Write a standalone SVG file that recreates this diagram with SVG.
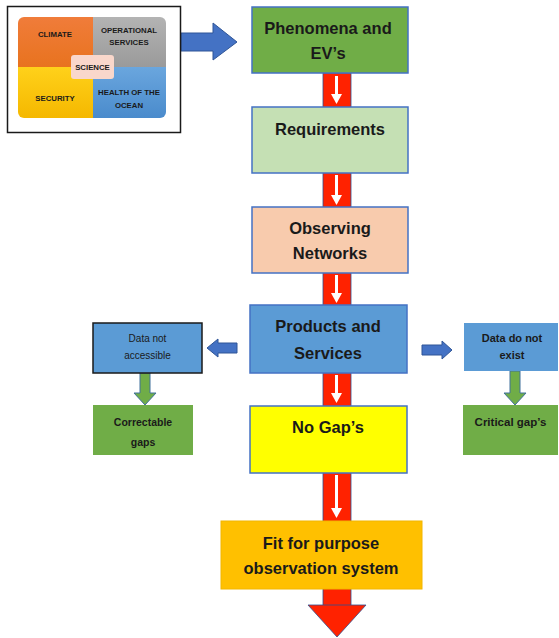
<svg xmlns="http://www.w3.org/2000/svg" width="559" height="638" viewBox="0 0 559 638">
<defs>
<style>
.t{font-family:"Liberation Sans",Arial,sans-serif;font-weight:bold;fill:#1a1a1a;text-anchor:middle}
.big{font-size:16.5px}
.sm{font-size:10px;font-weight:normal}
.xs{font-size:7.8px}
.box{stroke:#4472c4;stroke-width:1.5}
</style>
<linearGradient id="gO" x1="0" y1="0" x2="0" y2="1"><stop offset="0" stop-color="#f07c3a"/><stop offset="1" stop-color="#e8731f"/></linearGradient>
<linearGradient id="gG" x1="0" y1="0" x2="0" y2="1"><stop offset="0" stop-color="#b3b3b3"/><stop offset="1" stop-color="#9a9a9a"/></linearGradient>
<linearGradient id="gY" x1="0" y1="0" x2="0" y2="1"><stop offset="0" stop-color="#ffd11a"/><stop offset="1" stop-color="#f5b800"/></linearGradient>
<linearGradient id="gB" x1="0" y1="0" x2="0" y2="1"><stop offset="0" stop-color="#6aa6de"/><stop offset="1" stop-color="#4a8bcc"/></linearGradient>
<clipPath id="quad"><rect x="18" y="17" width="148" height="101" rx="6"/></clipPath>
</defs>
<rect width="559" height="638" fill="#ffffff"/>

<g id="connectors">
  <rect x="323" y="73" width="28" height="533" fill="#ff2200" stroke="#2f4f8f" stroke-width="0.8"/>
  <polygon points="308,605 366,605 337,637" fill="#ff2200" stroke="#2f4f8f" stroke-width="0.8"/>
  <g fill="#ffffff">
    <rect x="335" y="76" width="3" height="20"/><polygon points="331,94 342,94 336.5,104"/>
    <rect x="335" y="175" width="3" height="22"/><polygon points="331,195 342,195 336.5,205"/>
    <rect x="335" y="275" width="3" height="21"/><polygon points="331,293 342,293 336.5,303"/>
    <rect x="335" y="375" width="3" height="20"/><polygon points="331,393 342,393 336.5,403"/>
    <rect x="335" y="475" width="3" height="35"/><polygon points="331,508 342,508 336.5,518"/>
  </g>
  <polygon points="181,33 213,33 213,23 237,42 213,60 213,51 181,51" fill="#4472c4" stroke="#2f5597" stroke-width="1"/>
  <polygon points="237,343 218,343 218,339 207,348 218,357 218,353 237,353" fill="#4472c4" stroke="#2f5597" stroke-width="1"/>
  <polygon points="422,345 442,345 442,341 452,350 442,359 442,355 422,355" fill="#4472c4" stroke="#2f5597" stroke-width="1"/>
  <polygon points="140,373 150,373 150,393 156,393 145,405 134,393 140,393" fill="#70ad47" stroke="#41719c" stroke-width="1"/>
  <polygon points="510,371 520,371 520,393 526,393 515,405 504,393 510,393" fill="#70ad47" stroke="#41719c" stroke-width="1"/>
</g>

<g id="frame">
  <rect x="7.5" y="6.5" width="173" height="126" fill="#ffffff" stroke="#1a1a1a" stroke-width="1.5"/>
  <g clip-path="url(#quad)">
    <rect x="18" y="17" width="75" height="50" fill="url(#gO)"/>
    <rect x="93" y="17" width="73" height="50" fill="url(#gG)"/>
    <rect x="18" y="67" width="75" height="51" fill="url(#gY)"/>
    <rect x="93" y="67" width="73" height="51" fill="url(#gB)"/>
  </g>
  <rect x="71" y="55" width="43" height="24" rx="3" fill="#f9d7cb"/>
  <text class="t xs" x="55" y="37">CLIMATE</text>
  <text class="t xs" x="129" y="33">OPERATIONAL</text>
  <text class="t xs" x="129" y="45">SERVICES</text>
  <text class="t xs" x="92.5" y="70">SCIENCE</text>
  <text class="t xs" x="55" y="101">SECURITY</text>
  <text class="t xs" x="129" y="95">HEALTH OF THE</text>
  <text class="t xs" x="129" y="108">OCEAN</text>
</g>

<g id="phenomena">
  <rect class="box" x="252" y="7" width="156" height="66" fill="#70ad47"/>
  <text class="t big" x="328" y="34">Phenomena and</text>
  <text class="t big" x="328" y="59">EV’s</text>
</g>
<g id="requirements">
  <rect class="box" x="252" y="107" width="156" height="66" fill="#c5e0b4"/>
  <text class="t big" x="330" y="135">Requirements</text>
</g>
<g id="observing">
  <rect class="box" x="252" y="207" width="156" height="66" fill="#f8cbad"/>
  <text class="t big" x="330" y="234">Observing</text>
  <text class="t big" x="330" y="259">Networks</text>
</g>
<g id="products">
  <rect class="box" x="250" y="305" width="157" height="68" fill="#5b9bd5"/>
  <text class="t big" x="328" y="332">Products and</text>
  <text class="t big" x="328" y="359">Services</text>
</g>
<g id="nogaps">
  <rect class="box" x="250" y="406" width="157" height="67" fill="#ffff00"/>
  <text class="t big" x="328" y="433">No Gap’s</text>
</g>
<g id="fit">
  <rect x="221" y="521" width="201" height="68" fill="#ffc000" stroke="#f2b600" stroke-width="1"/>
  <text class="t big" x="321" y="549">Fit for purpose</text>
  <text class="t big" x="321" y="574">observation system</text>
</g>
<g id="notaccessible">
  <rect x="93" y="323" width="109" height="50" fill="#5b9bd5" stroke="#1a1a1a" stroke-width="1.5"/>
  <text class="t sm" x="147.5" y="342">Data not</text>
  <text class="t sm" x="147.5" y="359">accessible</text>
</g>
<g id="correctable">
  <rect x="93" y="405" width="100" height="50" fill="#70ad47"/>
  <text class="t sm" x="143" y="426" style="font-weight:bold;font-size:10.5px">Correctable</text>
  <text class="t sm" x="143" y="446" style="font-weight:bold;font-size:10.5px">gaps</text>
</g>
<g id="notexist">
  <rect x="464" y="323" width="94" height="48" fill="#5b9bd5"/>
  <text class="t sm" x="512" y="342" style="font-weight:bold;font-size:11px">Data do not</text>
  <text class="t sm" x="512" y="359" style="font-weight:bold;font-size:11px">exist</text>
</g>
<g id="critical">
  <rect x="463" y="405" width="95" height="50" fill="#70ad47"/>
  <text class="t sm" x="510.5" y="426" style="font-weight:bold;font-size:11.5px">Critical gap’s</text>
</g>
</svg>
